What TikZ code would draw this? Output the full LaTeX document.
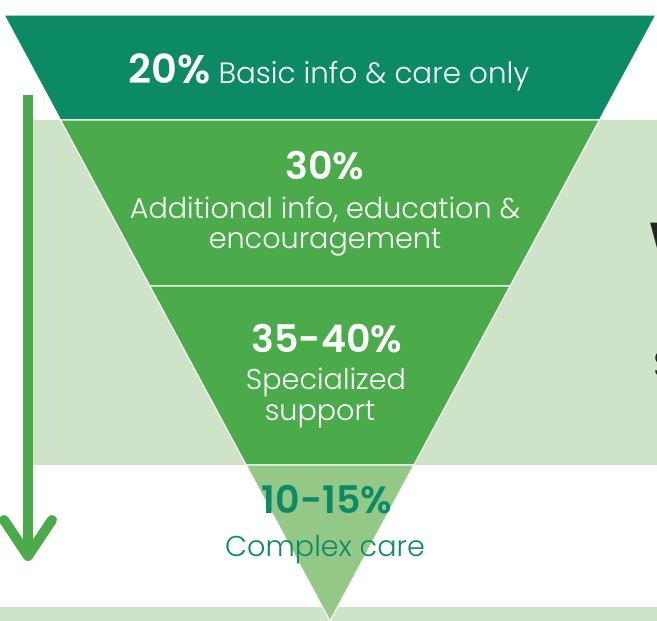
\documentclass[tikz,border=0pt]{standalone}
\usepackage{fontspec}
\setmainfont{Poppins}[UprightFont=* Light, BoldFont=* SemiBold]
\definecolor{tealgreen}{RGB}{12, 138, 102}
\definecolor{midgreen}{RGB}{75, 170, 74}
\definecolor{palegreen}{RGB}{147, 200, 134}
\definecolor{backgreen}{RGB}{207, 227, 200}
\definecolor{inkgray}{RGB}{35, 35, 35}
\usetikzlibrary{calc, positioning}

\begin{document}
\begin{tikzpicture}[x=0.75pt, y=-0.75pt,
  band/.style={draw=white!75!backgreen, line width=1pt},
  pct/.style={anchor=base, inner sep=0pt, font=\fontsize{28.5}{30}\selectfont\bfseries},
  desc/.style={anchor=base, inner sep=0pt, font=\fontsize{21.5}{23}\selectfont},
  arrowline/.style={draw=midgreen, line width=7.5pt}]
  \useasboundingbox (0,0) rectangle (657,621);
  \clip (0,0) rectangle (657,621);

  % Backdrop
  \fill[backgreen] (33,120) rectangle (657,465);
  \fill[backgreen] (0,607) rectangle (657,621);

  % Funnel
  \coordinate (tl) at (4,15);
  \coordinate (tr) at (656,15);
  \coordinate (apex) at (330,621);
  \coordinate (l1) at ($(tl)!0.1733!(apex)$);
  \coordinate (r1) at ($(tr)!0.1733!(apex)$);
  \coordinate (l2) at ($(tl)!0.4472!(apex)$);
  \coordinate (r2) at ($(tr)!0.4472!(apex)$);
  \coordinate (l3) at ($(tl)!0.7426!(apex)$);
  \coordinate (r3) at ($(tr)!0.7426!(apex)$);

  \filldraw[band, fill=tealgreen] (tl) -- (tr) -- (r1) -- (l1) -- cycle;
  \filldraw[band, fill=midgreen] (l1) -- (r1) -- (r2) -- (l2) -- cycle;
  \filldraw[band, fill=midgreen] (l2) -- (r2) -- (r3) -- (l3) -- cycle;
  \filldraw[band, fill=palegreen] (l3) -- (r3) -- (apex) -- cycle;

  % Labels
  \node[anchor=base, inner sep=0pt, text=white] (basic) at (329,83)
    {{\fontsize{30}{32}\selectfont\bfseries 20\%}\hspace{6pt}{\fontsize{22}{24}\selectfont Basic info \& care only}};

  \node[pct, text=white] (pctadd) at (325,179) {30\%};
  \node[desc, text=white] (addone) at (325,218) {Additional info, education \&};
  \node[desc, text=white] (addtwo) at (325,248) {encouragement};

  \node[pct, text=white] (pctspec) at (327,352) {35-40\%};
  \node[desc, text=white] (specone) at (326,389) {Specialized};
  \node[desc, text=white] (spectwo) at (320,420) {support};

  \node[pct, text=tealgreen] (pctcomp) at (327,513) {10-15\%};
  \node[desc, text=tealgreen] (compone) at (325,556) {Complex care};

  % Cut-off text at the right edge
  \node[anchor=base west, inner sep=0pt, text=inkgray, font=\fontsize{38}{40}\selectfont\bfseries] (cutw) at (649,258) {W};
  \node[anchor=base west, inner sep=0pt, text=inkgray, font=\fontsize{28}{30}\selectfont] (cuts) at (653,377) {S};

  % Arrow
  \coordinate (arrtop) at (28,95);
  \coordinate (arrtip) at (28,556);
  \draw[arrowline, line cap=butt] (arrtop) -- ($(arrtip)+(0,-4)$);
  \draw[arrowline, line cap=round, line join=round] ($(arrtip)+(-24,-36)$) -- (arrtip) -- ($(arrtip)+(24,-36)$);
\end{tikzpicture}
\end{document}
